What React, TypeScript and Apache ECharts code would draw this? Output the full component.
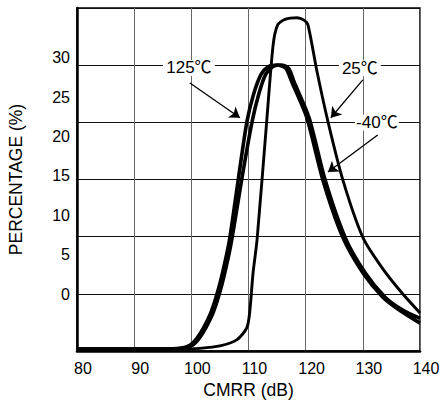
import React, { useEffect, useRef } from "react";
import * as echarts from "echarts";

const FONT = "'Liberation Sans', Arial, 'Noto Sans CJK SC', sans-serif";

// X tick range (dB)
const xTicks = [80, 90, 100, 110, 120, 130, 140];
// Y tick labels (%)
const yTickLabels = [0, 5, 10, 15, 20, 25, 30];

// 125°C curve
const x125 = [80, 95, 98, 99.75, 101.0, 102.2, 103.5, 104.8, 105.8, 106.7, 108.2, 109.7, 110.9, 112.2, 113.5, 115.0, 116.5, 117.6, 120.2, 123.0, 126.5, 130.0, 133.5, 136.5, 140];
const y125 = [-7.0, -7.0, -6.9, -6.5, -5.6, -4.2, -2.2, 0.8, 3.8, 7.0, 14.5, 21.8, 25.4, 27.9, 28.9, 29.1, 28.7, 26.9, 22.4, 14.5, 7.2, 2.7, -0.4, -2.1, -3.7];

// -40°C curve
const xM40 = [80, 96, 98.5, 100.2, 101.4, 102.6, 103.9, 105.2, 106.2, 107.1, 108.8, 110.6, 111.8, 113.0, 114.3, 115.7, 117.0, 118.0, 120.6, 123.4, 126.9, 130.4, 133.9, 136.9, 140];
const yM40 = [-7.0, -7.0, -6.9, -6.5, -5.6, -4.2, -2.2, 0.8, 3.8, 7.0, 14.5, 21.8, 25.4, 27.9, 28.9, 29.1, 28.7, 26.9, 22.4, 14.5, 7.2, 2.7, -0.4, -2.0, -3.1];

// 25°C curve
const x25 = [80, 98, 101.5, 105.0, 108.0, 109.7, 110.2, 110.8, 111.5, 113.2, 114.3, 115.1, 116.4, 118.5, 119.7, 120.4, 122.0, 123.9, 126.5, 130.0, 133.5, 137.0, 140.0];
const y25 = [-7.0, -7.0, -6.9, -6.6, -5.8, -4.3, -2.4, 2.7, 6.9, 22.1, 31.6, 34.2, 34.9, 35.1, 34.8, 34.2, 28.2, 21.9, 14.5, 7.2, 3.2, 0.0, -2.4];

// Annotation labels (data coordinates) and arrows
const labelNames = ["125℃", "25℃", "-40℃"];
const labelX = [99.58, 129.48, 132.45];
const labelY = [28.72, 28.7, 21.8];
const labelW = [52, 42, 44];
const arrowFromX = [99.75, 130.0, 132.6];
const arrowFromY = [26.8, 27.2, 20.2];
const arrowToX = [108.5, 124.4, 123.9];
const arrowToY = [22.4, 22.4, 15.5];

const zip = (xs: number[], ys: number[]) => xs.map((x, i) => [x, ys[i]]);

export default function App() {
  const ref = useRef<HTMLDivElement>(null);
  useEffect(() => {
    if (!ref.current) return;
    const chart = echarts.init(ref.current, undefined, { renderer: "svg" });
    const lineCommon = {
      type: "line" as const,
      showSymbol: false,
      symbol: "none",
      smooth: 0.25,
      xAxisIndex: 0,
      yAxisIndex: 0,
      z: 5,
    };
    chart.setOption({
      animation: false,
      backgroundColor: "#fff",
      grid: {
        left: 77,
        top: 8,
        width: 343,
        height: 343,
        show: true,
        borderColor: "#000",
        borderWidth: 1.5,
        backgroundColor: "transparent",
        outerBoundsMode: "none",
      },
      xAxis: {
        type: "value",
        min: xTicks[0],
        max: xTicks[xTicks.length - 1],
        interval: 10,
        axisLine: { onZero: false, lineStyle: { color: "#000", width: 2.5 } },
        axisTick: { show: false },
        splitLine: { show: true, lineStyle: { color: "#666", width: 1 } },
        axisLabel: { color: "#000", fontSize: 16, fontFamily: FONT, margin: 9, padding: [0, 0, 0, 12] },
        name: "CMRR (dB)",
        nameLocation: "middle",
        nameGap: 28,
        nameTextStyle: { color: "#000", fontSize: 17.5, fontFamily: FONT },
      },
      yAxis: [
        {
          type: "value",
          min: -7.24,
          max: 36.34,
          position: "left",
          axisLine: { show: true, onZero: false, lineStyle: { color: "#000", width: 2.5 } },
          axisTick: { show: false },
          splitLine: { show: false },
          axisLabel: {
            customValues: yTickLabels,
            color: "#000",
            fontSize: 16,
            fontFamily: FONT,
            margin: 7,
          },
          name: "PERCENTAGE (%)",
          nameLocation: "middle",
          nameGap: 52,
          nameTextStyle: { color: "#000", fontSize: 17.5, fontFamily: FONT },
        },
        {
          type: "value",
          min: 0,
          max: 6,
          interval: 1,
          position: "left",
          axisLine: { show: false },
          axisTick: { show: false },
          axisLabel: { show: false },
          splitLine: { show: true, lineStyle: { color: "#111", width: 1 } },
        },
      ],
      series: [
        {
          ...lineCommon,
          name: "125℃",
          data: zip(x125, y125),
          lineStyle: { color: "#000", width: 3.6 },
          markLine: {
            silent: true,
            symbol: ["none", "arrow"],
            symbolSize: 10,
            label: { show: false },
            lineStyle: { color: "#000", width: 1.3, type: "solid" },
            data: arrowFromX.map((x, i) => [
              { coord: [x, arrowFromY[i]] },
              { coord: [arrowToX[i], arrowToY[i]] },
            ]),
          },
          markPoint: {
            silent: true,
            symbol: "rect",
            itemStyle: { color: "#fff" },
            label: {
              show: true,
              position: "inside",
              formatter: "{b}",
              color: "#000",
              fontSize: 17,
              fontFamily: FONT,
            },
            data: labelNames.map((n, i) => ({
              name: n,
              coord: [labelX[i], labelY[i]],
              symbolSize: [labelW[i], 16],
            })),
          },
        },
        {
          ...lineCommon,
          name: "-40℃",
          data: zip(xM40, yM40),
          lineStyle: { color: "#000", width: 3.6 },
        },
        {
          ...lineCommon,
          name: "25℃",
          data: zip(x25, y25),
          lineStyle: { color: "#000", width: 2.9 },
        },
      ],
    });
    return () => chart.dispose();
  }, []);
  return (
    <div
      ref={ref}
      style={{ position: "fixed", left: 0, top: 0, width: 446, height: 404 }}
    />
  );
}
